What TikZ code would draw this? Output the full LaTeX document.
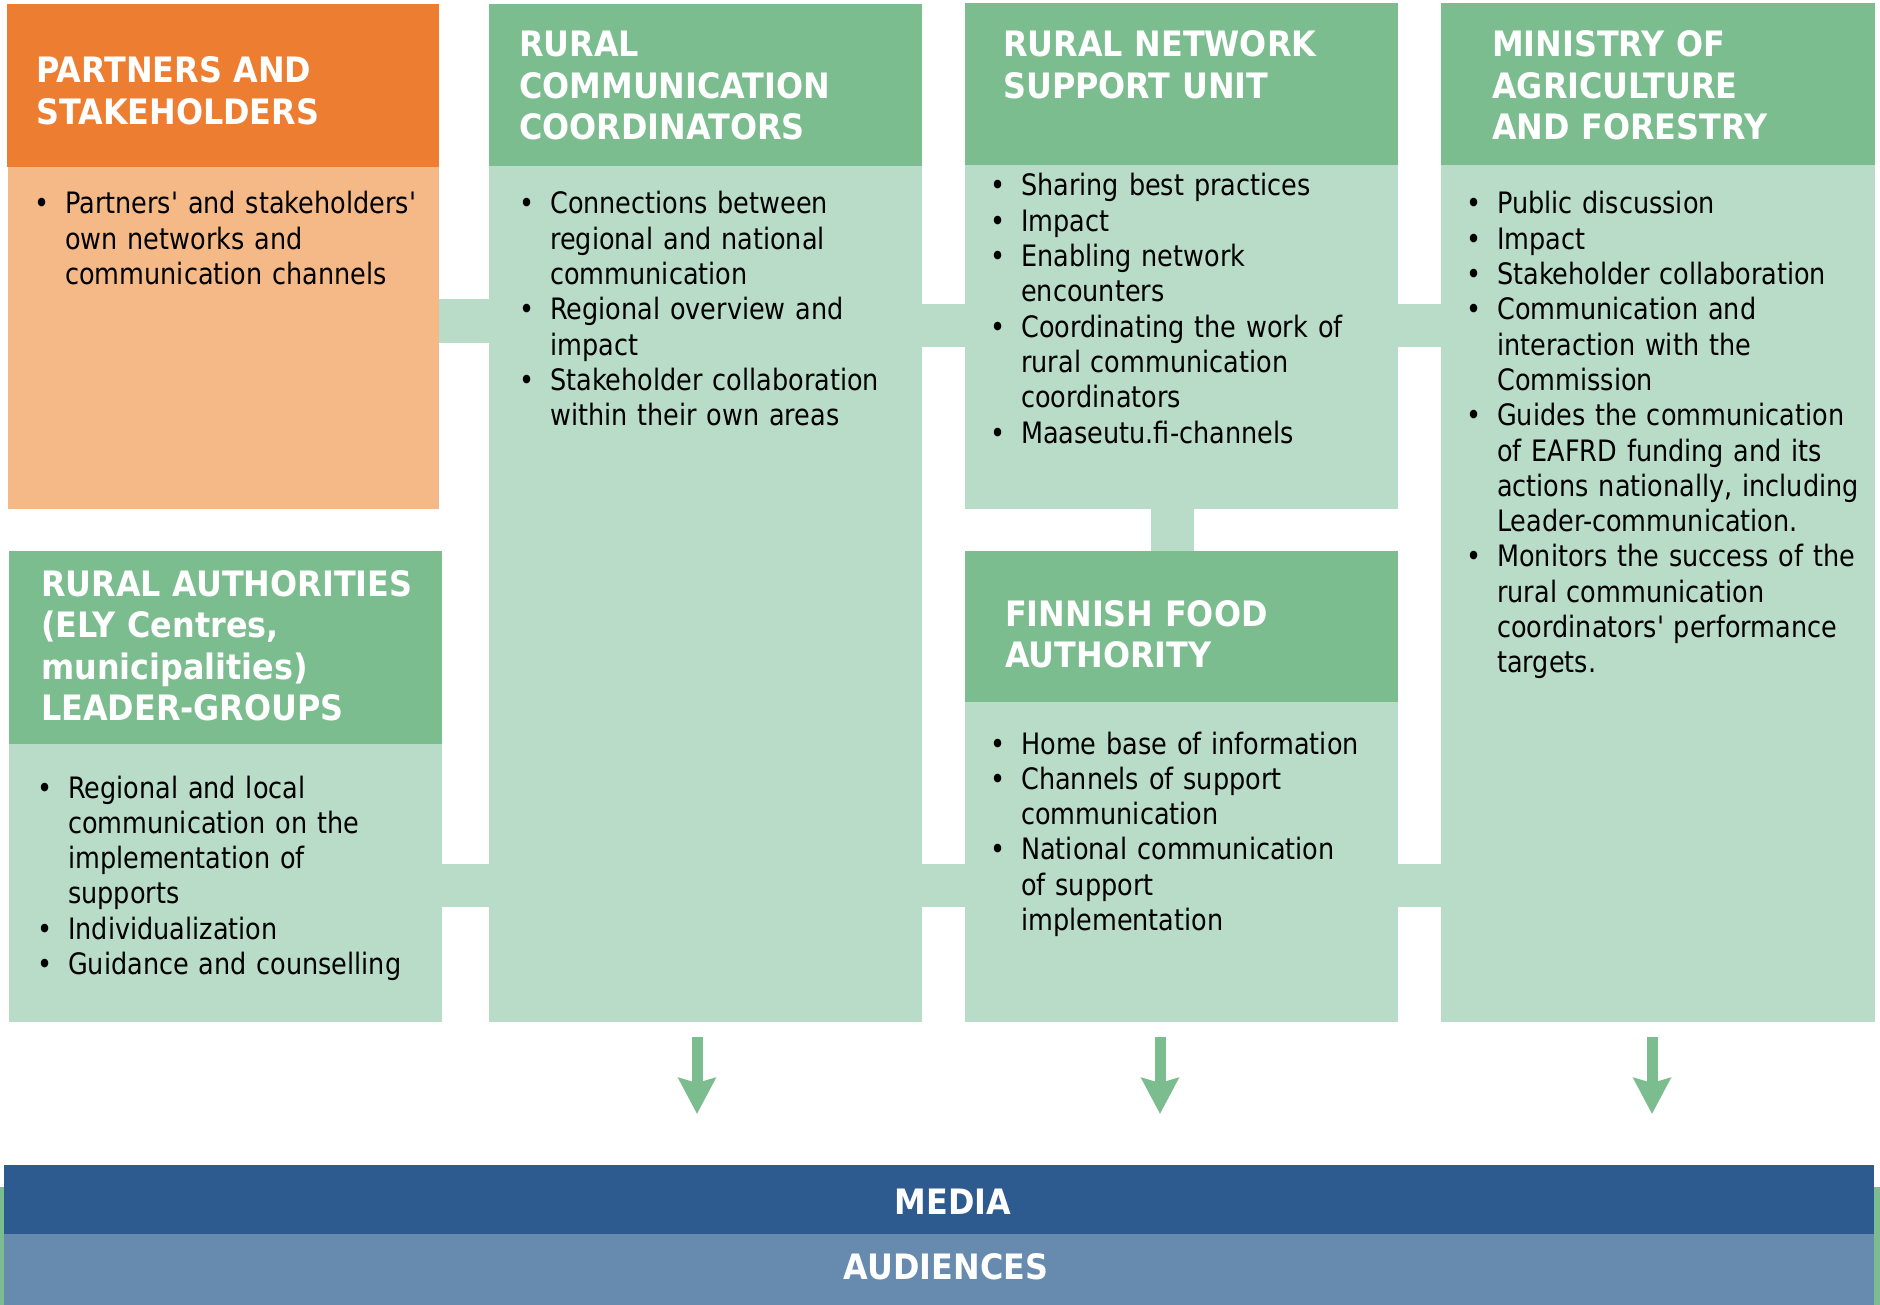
\documentclass[tikz,border=0pt]{standalone}
\usepackage{fontspec}
\setmainfont{DejaVu Sans}[FakeStretch=0.865]
\newfontfamily\bodyfont{DejaVu Sans}[FakeStretch=0.865]
\newfontfamily\hdrfont{DejaVu Sans}[FakeStretch=0.91]
\usetikzlibrary{arrows.meta}
\definecolor{orgH}{HTML}{ED7D31}
\definecolor{orgB}{HTML}{F4B987}
\definecolor{grnH}{HTML}{7CBD8F}
\definecolor{grnB}{HTML}{B8DCC7}
\definecolor{mediaC}{HTML}{2D5B8F}
\definecolor{audC}{HTML}{678AAF}
\newcommand\bfirst{\noindent\hangindent=31pt\hangafter=1\makebox[31pt][l]{•}}
\newcommand\bitem{\par\bfirst}
\newcommand\nl{\newline}
\tikzset{
  box/.style={anchor=north west, inner sep=0pt, outer sep=0pt, draw=none},
  hdrtxt/.style={anchor=base west, inner sep=0pt, text width=420pt, align=left, text=white,
    font=\hdrfont\bfseries\fontsize{35}{41.5}\selectfont},
  bodytxt/.style={anchor=base west, inner sep=0pt, text width=420pt, text=black,
    font=\bodyfont\fontsize{29.5}{35.3}\selectfont, execute at begin node={\raggedright}},
  arr/.style={draw=grnH, line width=11pt, -{Stealth[length=36pt, width=37pt, inset=5pt]}},
  bartxt/.style={text=white, inner sep=0pt, font=\hdrfont\bfseries\fontsize{35}{40}\selectfont}
}
\begin{document}
\begin{tikzpicture}[x=1pt, y=-1pt]
\useasboundingbox (0,0) rectangle (1880,1305);
\fill[white] (0,0) rectangle (1880,1305);
% boxes
\node[box, fill=orgH, minimum width=432, minimum height=163] (ph) at (7,4) {};
\node[box, fill=orgB, minimum width=431, minimum height=342] (pb) at (8,167) {};
\node[box, fill=grnH, minimum width=433, minimum height=162] (c2h) at (489,4) {};
\node[box, fill=grnB, minimum width=433, minimum height=856] (c2b) at (489,166) {};
\node[box, fill=grnH, minimum width=433, minimum height=162] (c3h) at (965,3) {};
\node[box, fill=grnB, minimum width=433, minimum height=344] (c3b) at (965,165) {};
\node[box, fill=grnH, minimum width=434, minimum height=162] (c4h) at (1441,3) {};
\node[box, fill=grnB, minimum width=434, minimum height=857] (c4b) at (1441,165) {};
\node[box, fill=grnH, minimum width=433, minimum height=193] (rah) at (9,551) {};
\node[box, fill=grnB, minimum width=433, minimum height=278] (rab) at (9,744) {};
\node[box, fill=grnH, minimum width=433, minimum height=151] (ffh) at (965,551) {};
\node[box, fill=grnB, minimum width=433, minimum height=320] (ffb) at (965,702) {};
% connectors
\fill[grnB] (pb.east |- 0,299) rectangle (c2b.west |- 0,343);
\fill[grnB] (c2b.east |- 0,304) rectangle (c3b.west |- 0,347);
\fill[grnB] (c3b.east |- 0,304) rectangle (c4b.west |- 0,347);
\fill[grnB] (1151,0 |- c3b.south) rectangle (1194,0 |- ffh.north);
\fill[grnB] (rab.east |- 0,864) rectangle (c2b.west |- 0,907);
\fill[grnB] (c2b.east |- 0,864) rectangle (ffb.west |- 0,907);
\fill[grnB] (ffb.east |- 0,864) rectangle (c4b.west |- 0,907);
% headers
\node[hdrtxt] (tph) at (36,83) {PARTNERS AND\\STAKEHOLDERS};
\node[hdrtxt] (tc2h) at (519,57) {RURAL\\COMMUNICATION\\COORDINATORS};
\node[hdrtxt] (tc3h) at (1003,57) {RURAL NETWORK\\SUPPORT UNIT};
\node[hdrtxt] (tc4h) at (1492,57) {MINISTRY OF\\AGRICULTURE\\AND FORESTRY};
\node[hdrtxt] (trah) at (41,596) {RURAL AUTHORITIES\\(ELY Centres,\\municipalities)\\LEADER-GROUPS};
\node[hdrtxt] (tffh) at (1005,626) {FINNISH FOOD\\AUTHORITY};
% bodies
\node[bodytxt] (tpb) at (34,214) {\bfirst Partners' and stakeholders'\nl own networks and\nl communication channels\par};
\node[bodytxt] (tc2b) at (519,214) {\bfirst Connections between\nl regional and national\nl communication
\bitem Regional overview and\nl impact
\bitem Stakeholder collaboration\nl within their own areas\par};
\node[bodytxt] (tc3b) at (990,196) {\bfirst Sharing best practices
\bitem Impact
\bitem Enabling network\nl encounters
\bitem Coordinating the work of\nl rural communication\nl coordinators
\bitem Maaseutu.fi-channels\par};
\node[bodytxt] (tc4b) at (1466,214) {\bfirst Public discussion
\bitem Impact
\bitem Stakeholder collaboration
\bitem Communication and\nl interaction with the\nl Commission
\bitem Guides the communication\nl of EAFRD funding and its\nl actions nationally, including\nl Leader-communication.
\bitem Monitors the success of the\nl rural communication\nl coordinators' performance\nl targets.\par};
\node[bodytxt] (trab) at (37,798) {\bfirst Regional and local\nl communication on the\nl implementation of\nl supports
\bitem Individualization
\bitem Guidance and counselling\par};
\node[bodytxt] (tffb) at (990,754) {\bfirst Home base of information
\bitem Channels of support\nl communication
\bitem National communication\nl of support\nl implementation\par};
% bottom bars
\fill[grnH] (0,1187) rectangle (1880,1305);
\node[box, fill=mediaC, minimum width=1870, minimum height=69] (media) at (4,1165) {};
\node[box, fill=audC, minimum width=1870, minimum height=71] (aud) at (4,1234) {};
\node[bartxt] (tmedia) at (953,1202) {MEDIA};
\node[bartxt] (taud) at (946,1267) {AUDIENCES};
% arrows
\coordinate (a1s) at (697,1037); \coordinate (a1e) at (697,1114);
\coordinate (a2s) at (1160,1037); \coordinate (a2e) at (1160,1114);
\coordinate (a3s) at (1652,1037); \coordinate (a3e) at (1652,1114);
\draw[arr] (a1s) -- (a1e);
\draw[arr] (a2s) -- (a2e);
\draw[arr] (a3s) -- (a3e);
\end{tikzpicture}
\end{document}
